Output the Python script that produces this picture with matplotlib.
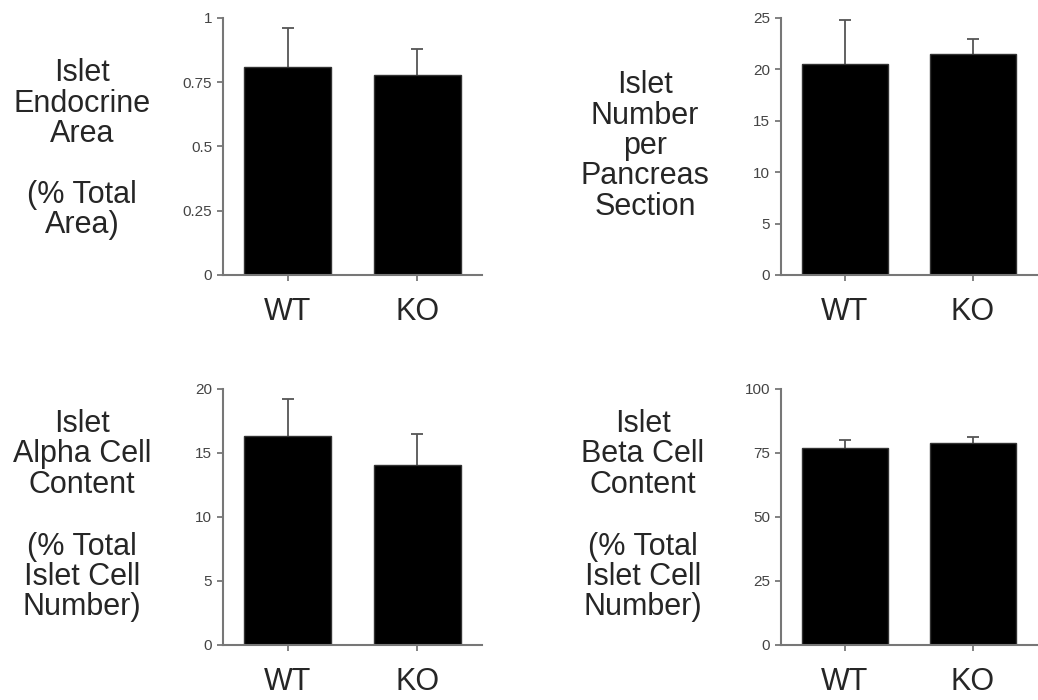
import matplotlib
matplotlib.use("Agg")
import matplotlib.pyplot as plt

plt.rcParams['font.family'] = ['Liberation Sans', 'DejaVu Sans']

groups = ['WT', 'KO']

endocrine_area = [0.81, 0.78]
endocrine_area_err = [0.15, 0.10]
endocrine_ticks = [0, 0.25, 0.5, 0.75, 1]
endocrine_ticklabels = ['0', '0.25', '0.5', '0.75', '1']

islet_number = [20.5, 21.5]
islet_number_err = [4.3, 1.5]
islet_number_ticks = [0, 5, 10, 15, 20, 25]
islet_number_ticklabels = ['0', '5', '10', '15', '20', '25']

alpha_content = [16.3, 14.1]
alpha_content_err = [2.9, 2.4]
alpha_ticks = [0, 5, 10, 15, 20]
alpha_ticklabels = ['0', '5', '10', '15', '20']

beta_content = [77.0, 79.0]
beta_content_err = [3.0, 2.3]
beta_ticks = [0, 25, 50, 75, 100]
beta_ticklabels = ['0', '25', '50', '75', '100']

label_endocrine = ['Islet', 'Endocrine', 'Area', '(% Total', 'Area)']
label_number = ['Islet', 'Number', 'per', 'Pancreas', 'Section']
label_alpha = ['Islet', 'Alpha Cell', 'Content', '(% Total', 'Islet Cell', 'Number)']
label_beta = ['Islet', 'Beta Cell', 'Content', '(% Total', 'Islet Cell', 'Number)']

W, H = 1038, 700
fig = plt.figure(figsize=(W / 100, H / 100), dpi=100)
fig.patch.set_facecolor('white')

GREY = '#777777'
TEXT = '#262626'


def px_axes(left, top, right, bottom):
    return fig.add_axes([left / W, 1 - bottom / H, (right - left) / W, (bottom - top) / H])


def draw_panel(ax, values, errs, ticks, ticklabels):
    x = list(range(len(groups)))
    ax.bar(x, values, width=0.67, color='black', edgecolor='#333333', linewidth=1, zorder=2)
    eb = ax.errorbar(x, values, yerr=[[0] * len(errs), errs], fmt='none', ecolor='#555555',
                     elinewidth=1.3, capsize=4, capthick=1.3, zorder=1)
    caps = eb[1]
    if len(caps) > 0:
        caps[0].set_visible(False)
    ax.set_xlim(-0.5, 1.5)
    ax.set_ylim(ticks[0], ticks[-1])
    ax.set_yticks(ticks)
    ax.set_yticklabels(ticklabels)
    ax.set_xticks(x)
    ax.set_xticklabels(groups)
    for s in ['top', 'right']:
        ax.spines[s].set_visible(False)
    for s in ['left', 'bottom']:
        ax.spines[s].set_color(GREY)
        ax.spines[s].set_linewidth(1.5)
    ax.tick_params(axis='y', direction='out', length=4.3, width=1.3, color=GREY,
                   labelsize=11, labelcolor='#444444', pad=3.5)
    ax.tick_params(axis='x', direction='out', length=4, width=1.3, color=GREY,
                   labelsize=22, labelcolor=TEXT, pad=12)
    ax.set_facecolor('none')


def draw_label(lines, xc, baselines):
    for line, yb in zip(lines, baselines):
        fig.text(xc / W, 1 - yb / H, line, ha='center', va='baseline',
                 fontsize=22, color=TEXT)


ax1 = px_axes(223, 18, 482, 275)
draw_panel(ax1, endocrine_area, endocrine_area_err, endocrine_ticks, endocrine_ticklabels)
ax2 = px_axes(781, 18, 1037, 275)
draw_panel(ax2, islet_number, islet_number_err, islet_number_ticks, islet_number_ticklabels)
ax3 = px_axes(223, 389, 482, 645)
draw_panel(ax3, alpha_content, alpha_content_err, alpha_ticks, alpha_ticklabels)
ax4 = px_axes(781, 389, 1037, 645)
draw_panel(ax4, beta_content, beta_content_err, beta_ticks, beta_ticklabels)

draw_label(label_endocrine, 82, [81, 112, 142, 203, 233])
draw_label(label_number, 645, [93, 123.5, 154, 184.5, 215])
draw_label(label_alpha, 82, [432, 462, 493, 555, 585, 615])
draw_label(label_beta, 643, [432, 462, 493, 555, 585, 615])

fig.savefig('out.png', dpi=100)
